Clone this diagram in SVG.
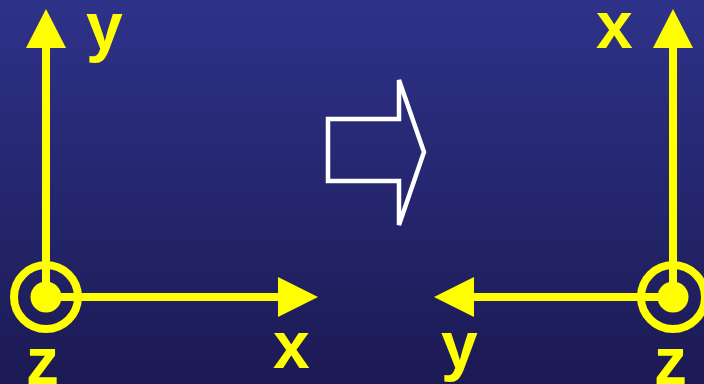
<svg xmlns="http://www.w3.org/2000/svg" width="704" height="384" viewBox="0 0 704 384">
  <defs>
    <linearGradient id="bg" x1="0" y1="0" x2="0" y2="1">
      <stop offset="0" stop-color="#2e3289"/>
      <stop offset="1" stop-color="#1c1a54"/>
    </linearGradient>
    <style>
      .ax { stroke: #ffff00; stroke-width: 8; fill: none; }
      .head { fill: #ffff00; }
      .ring { stroke: #ffff00; stroke-width: 8; fill: none; }
      .dot { fill: #ffff00; }
      .lbl { font-family: "Liberation Sans", Arial, sans-serif; font-weight: bold; font-size: 66px; fill: #ffff00; }
    </style>
  </defs>
  <rect width="704" height="384" fill="url(#bg)"/>

  <g id="connectors">
    <line class="ax" x1="46" y1="297" x2="46" y2="46"/>
    <polygon class="head" points="46,9 26,48 66,48"/>
    <line class="ax" x1="46" y1="297" x2="280" y2="297"/>
    <polygon class="head" points="318,297 278,277 278,317"/>
    <line class="ax" x1="673" y1="297" x2="673" y2="46"/>
    <polygon class="head" points="673,9 653,48 693,48"/>
    <line class="ax" x1="673" y1="297" x2="472" y2="297"/>
    <polygon class="head" points="434,297 474,277 474,317"/>
  </g>

  <g id="left-origin">
    <circle class="ring" cx="46" cy="297" r="32"/>
    <circle class="dot" cx="46" cy="297" r="15.5"/>
  </g>
  <g id="right-origin">
    <circle class="ring" cx="673" cy="297" r="32"/>
    <circle class="dot" cx="673" cy="297" r="15.5"/>
  </g>

  <g id="transform-arrow">
    <polygon points="328,119 399,119 399,80 424,152 399,225 399,181 328,181" fill="none" stroke="#ffffff" stroke-width="4.5"/>
  </g>

  <g id="labels">
    <text class="lbl" x="86" y="49">y</text>
    <text class="lbl" x="273" y="368">x</text>
    <text class="lbl" x="26" y="384">z</text>
    <text class="lbl" x="596" y="48">x</text>
    <text class="lbl" x="441" y="368">y</text>
    <text class="lbl" x="654" y="384">z</text>
  </g>
</svg>
